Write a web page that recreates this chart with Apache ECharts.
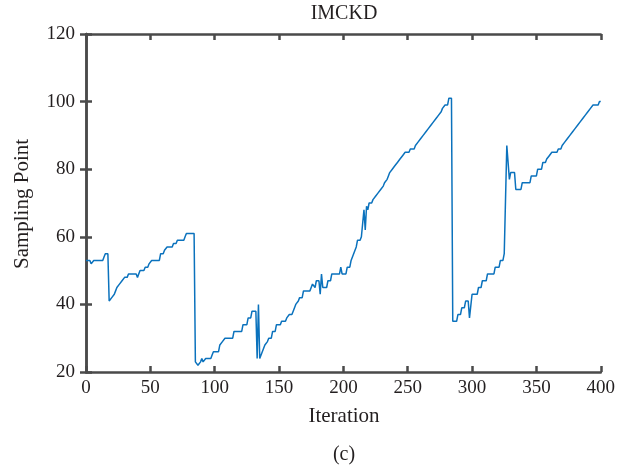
<!DOCTYPE html>
<html>
<head>
<meta charset="utf-8">
<script src="https://cdn.jsdelivr.net/npm/echarts@6/dist/echarts.min.js"></script>
<style>html,body{margin:0;padding:0;background:#fff}#c{width:618px;height:472px}</style>
</head>
<body>
<div id="c"></div>
<script>
// [iteration, sampling point], one array per cycle
const cycle1 = [[0,53],[3,53],[4,52],[5,52],[6,53],[13,53],[14,54],[15,55],[17,55],[18,41],[19,41],[20,42],[22,43],[23,44],[24,45],[26,46],[28,47],[30,48],[32,48],[33,49],[39,49],[40,48],[41,48],[42,50],[45,50],[46,51],[48,51],[49,52],[51,53],[57,53],[58,55],[60,55],[61,56],[63,57],[67,57],[68,58],[70,58],[71,59],[76,59],[77,60],[78,61],[84,61]];
const cycle2 = [[85,23],[86,23],[87,22],[88,22],[89,23],[90,24],[91,23],[92,23],[93,24],[97,24],[98,25],[99,26],[103,26],[104,28],[106,29],[108,30],[114,30],[115,32],[121,32],[122,34],[125,34],[126,36],[128,36],[129,38],[132,38]];
const cycle3 = [[133,24],[134,40],[135,24],[136,24],[137,26],[139,28],[141,29],[142,30],[144,30],[145,32],[147,32],[148,34],[151,34],[152,35],[155,35],[156,36],[158,37],[160,37],[161,38],[163,40],[165,41],[166,42],[168,42],[169,44],[174,44],[175,45],[176,46],[177,46],[178,45],[179,47],[181,47],[182,43],[183,49],[184,45],[187,45],[188,47],[190,47],[191,49],[197,49],[198,51],[199,49],[202,49],[203,51],[205,51],[206,53],[208,55],[210,57],[211,59],[213,59],[214,60],[215,60],[216,68],[217,62],[218,69],[219,68],[220,70],[222,70],[223,71],[224,71],[225,72],[226,72],[227,73],[228,73],[229,74],[230,74],[231,75],[232,76],[233,76],[234,77],[235,78],[236,79],[237,79],[238,80],[239,80],[240,81],[241,81],[242,82],[243,82],[244,83],[245,83],[246,84],[247,84],[248,85],[251,85],[252,86],[255,86],[256,87],[257,87],[258,88],[259,88],[260,89],[261,89],[262,90],[263,90],[264,91],[265,91],[266,92],[267,92],[268,93],[269,93],[270,94],[271,94],[272,95],[273,95],[274,96],[275,96],[276,97],[277,98],[279,99],[281,99],[282,101],[284,101]];
const cycle4 = [[285,35],[288,35],[289,37],[291,37],[292,39],[294,39],[295,41],[297,41],[298,36],[299,36],[300,43],[304,43],[305,45],[307,45],[308,47],[311,47],[312,49],[317,49],[318,51],[321,51],[322,53],[324,53],[325,55],[326,55],[327,87],[329,77],[330,79],[333,79],[334,74],[338,74],[339,76],[345,76],[346,78],[350,78],[351,80],[354,80],[355,82],[357,82],[358,83],[359,83],[360,84],[361,84],[362,85],[366,85],[367,86],[369,86],[370,87],[371,87],[372,88],[373,88],[374,89],[375,89],[376,90],[377,90],[378,91],[379,91],[380,92],[381,92],[382,93],[383,93],[384,94],[385,94],[386,95],[387,95],[388,96],[389,96],[390,97],[391,97],[392,98],[393,98],[394,99],[398,99],[399,100],[400,100]];
const xTicks = {min: 0, max: 400, step: 50};
const yTicks = {min: 20, max: 120, step: 20};
const titleText = 'IMCKD';
const xName = 'Iteration';
const yName = 'Sampling Point';
const caption = '(c)';

const data = cycle1.concat(cycle2, cycle3, cycle4);
const FONT = 'Liberation Serif';
const AX = '#4a4a4a';
const TXT = '#231f20';

const chart = echarts.init(document.getElementById('c'), null, {renderer: 'canvas'});
const axisCommon = {
  axisLine: {show: true, lineStyle: {color: AX, width: 2.5}},
  axisTick: {show: true, inside: true, length: 6, lineStyle: {color: AX, width: 2.5}},
  splitLine: {show: false}
};
chart.setOption({
  animation: false,
  backgroundColor: '#fff',
  grid: {left: 86, right: 16, top: 34, bottom: 100, containLabel: false},
  xAxis: [
    Object.assign({type: 'value', position: 'bottom', min: xTicks.min, max: xTicks.max, interval: xTicks.step,
      axisLabel: {color: TXT, fontFamily: FONT, fontSize: 19, margin: 7}}, axisCommon),
    Object.assign({type: 'value', position: 'top', min: xTicks.min, max: xTicks.max, interval: xTicks.step,
      axisLabel: {show: false}}, axisCommon)
  ],
  yAxis: [
    Object.assign({type: 'value', position: 'left', min: yTicks.min, max: yTicks.max, interval: yTicks.step,
      axisLabel: {color: TXT, fontFamily: FONT, fontSize: 19, margin: 11}}, axisCommon),
    Object.assign({type: 'value', position: 'right', min: yTicks.min, max: yTicks.max, interval: yTicks.step,
      axisLabel: {show: false}}, axisCommon)
  ],
  series: [{
    type: 'line', xAxisIndex: 0, yAxisIndex: 0, data: data,
    showSymbol: false, symbol: 'none',
    lineStyle: {color: '#0b72bd', width: 1.5}
  }],
  graphic: [
    {type: 'text', style: {text: titleText, x: 344, y: 14, align: 'center', verticalAlign: 'middle', fill: TXT, font: '20px "Liberation Serif"'}},
    {type: 'text', style: {text: xName, x: 344, y: 416, align: 'center', verticalAlign: 'middle', fill: TXT, font: '21px "Liberation Serif"'}},
    {type: 'text', style: {text: caption, x: 344, y: 455, align: 'center', verticalAlign: 'middle', fill: TXT, font: '20px "Liberation Serif"'}},
    {type: 'text', rotation: Math.PI / 2, x: 22, y: 204, style: {text: yName, x: 0, y: 0, align: 'center', verticalAlign: 'middle', fill: TXT, font: '21px "Liberation Serif"'}}
  ]
});
</script>
</body>
</html>
